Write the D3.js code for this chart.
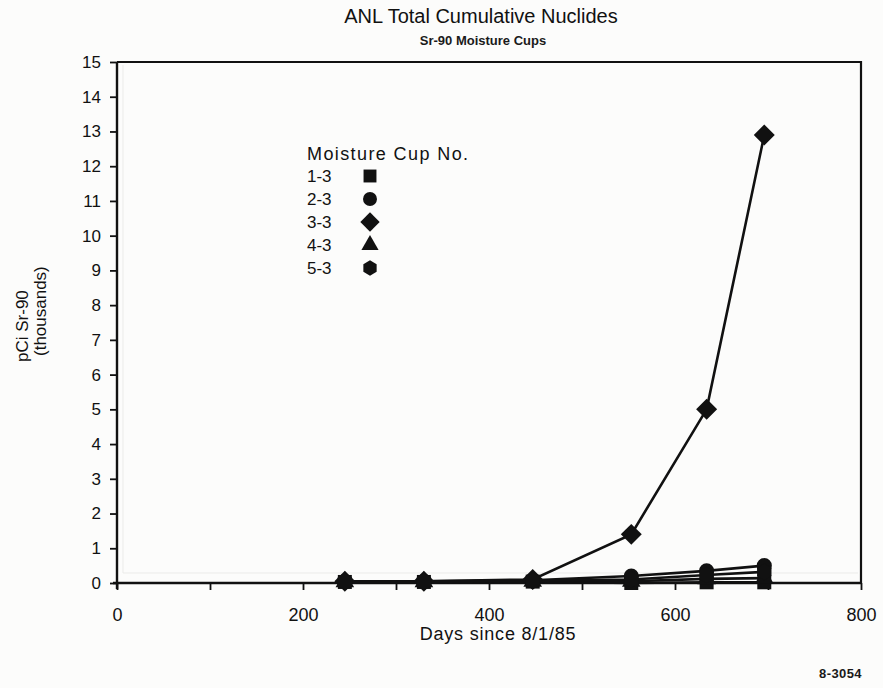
<!DOCTYPE html>
<html>
<head>
<meta charset="utf-8">
<script src="https://d3js.org/d3.v7.min.js"></script>
<style>
  body { margin: 0; background: #fcfcfb; }
  svg { font-family: "Liberation Sans", Arial, sans-serif; }
</style>
</head>
<body>
<svg width="883" height="688"></svg>
<script>
// days since 8/1/85 for each sampling
const days = [245, 330, 447, 553, 634, 696];

// pCi Sr-90 in thousands, one array per moisture cup
const cup13 = [0.03, 0.03, 0.04, 0.0, 0.02, 0.02];
const cup23 = [0.05, 0.05, 0.08, 0.2, 0.35, 0.5];
const cup33 = [0.05, 0.05, 0.1, 1.4, 5.0, 12.9];
const cup43 = [0.03, 0.03, 0.05, 0.05, 0.12, 0.14];
const cup53 = [0.04, 0.04, 0.06, 0.1, 0.23, 0.32];

const cupNames = ["1-3", "2-3", "3-3", "4-3", "5-3"];
const xTicks = [0, 200, 400, 600, 800];
const yTicks = d3.range(0, 16);

// hexagon isn't in d3, so make one
const symbolHexagon = {
  draw(ctx, size) {
    const r = Math.sqrt(size / (1.5 * Math.sqrt(3)));
    for (let i = 0; i < 6; i++) {
      const a = Math.PI / 6 + i * Math.PI / 3;
      const px = r * Math.cos(a), py = r * Math.sin(a);
      if (i === 0) ctx.moveTo(px, py); else ctx.lineTo(px, py);
    }
    ctx.closePath();
  }
};
// square turned 45 degrees (d3's diamond is too tall)
const symbolRhomb = {
  draw(ctx, size) {
    const r = Math.sqrt(size / 2);
    ctx.moveTo(0, -r); ctx.lineTo(r, 0); ctx.lineTo(0, r); ctx.lineTo(-r, 0);
    ctx.closePath();
  }
};

const series = [
  { name: cupNames[0], values: cup13, shape: d3.symbolSquare, size: 196 },
  { name: cupNames[1], values: cup23, shape: d3.symbolCircle, size: 180 },
  { name: cupNames[2], values: cup33, shape: symbolRhomb, size: 220 },
  { name: cupNames[3], values: cup43, shape: d3.symbolTriangle, size: 150 },
  { name: cupNames[4], values: cup53, shape: symbolHexagon, size: 180 }
];

const svg = d3.select("svg");
const margin = { left: 117, right: 22, top: 62, bottom: 105 };
const W = 883, H = 688;

const x = d3.scaleLinear().domain([0, 800]).range([margin.left, W - margin.right]);
const y = d3.scaleLinear().domain([0, 15]).range([H - margin.bottom, margin.top]);

// faint inner line seen on the original
svg.append("path")
  .attr("d", `M${x(0) + 6},${y(15) + 3}V${y(0) - 10}H${x(800) - 3}`)
  .attr("fill", "none").attr("stroke", "#ebebe9").attr("stroke-width", 1);

// frame: top and right
svg.append("path")
  .attr("d", `M${x(0)},${y(15)}H${x(800)}V${y(0)}`)
  .attr("fill", "none").attr("stroke", "#111").attr("stroke-width", 2.2);

const xAxis = svg.append("g")
  .attr("transform", `translate(0,${y(0)})`)
  .call(d3.axisBottom(x).tickValues(d3.range(0, 801, 100)).tickSize(7).tickFormat(d => xTicks.includes(d) ? d : ""));
xAxis.select(".domain").attr("stroke", "#111").attr("stroke-width", 2.4).attr("d", `M${x(0) - 4},0H${x(800)}`);
xAxis.selectAll(".tick line").attr("stroke", "#111").attr("stroke-width", 1.8);
xAxis.selectAll(".tick text").attr("font-size", 18).attr("fill", "#111").attr("dy", "1.55em");

const yAxis = svg.append("g")
  .attr("transform", `translate(${x(0)},0)`)
  .call(d3.axisLeft(y).tickValues(yTicks).tickSize(7).tickPadding(9));
yAxis.select(".domain").attr("stroke", "#111").attr("stroke-width", 2.4).attr("d", `M0,${y(15)}V${y(0) + 6}`);
yAxis.selectAll(".tick line").attr("stroke", "#111").attr("stroke-width", 1.8);
yAxis.selectAll(".tick text").attr("font-size", 17).attr("fill", "#111");

const line = d3.line().x((d, i) => x(days[i])).y(d => y(d));

series.forEach(s => {
  svg.append("path")
    .datum(s.values)
    .attr("d", line)
    .attr("fill", "none").attr("stroke", "#111").attr("stroke-width", 2.6);
});

series.forEach(s => {
  svg.append("g").selectAll("path")
    .data(s.values)
    .join("path")
    .attr("transform", (d, i) => `translate(${x(days[i])},${y(d)})`)
    .attr("d", d3.symbol(s.shape, s.size))
    .attr("fill", "#111");
});

// titles
svg.append("text").attr("x", 481).attr("y", 23).attr("text-anchor", "middle")
  .attr("font-size", 20).attr("fill", "#111").text("ANL Total Cumulative Nuclides");
svg.append("text").attr("x", 483).attr("y", 45).attr("text-anchor", "middle")
  .attr("font-size", 13).attr("font-weight", "bold").attr("fill", "#1a1a1a").text("Sr-90 Moisture Cups");

svg.append("text").attr("x", 498).attr("y", 640).attr("text-anchor", "middle")
  .attr("font-size", 18).attr("letter-spacing", 0.8).attr("fill", "#111")
  .text("Days since 8/1/85");

const yt = svg.append("text").attr("transform", "rotate(-90)")
  .attr("font-size", 17).attr("fill", "#111");
yt.append("tspan").attr("x", -362).attr("y", 28).text("pCi Sr-90");
yt.append("tspan").attr("x", -356).attr("y", 46).text("(thousands)");

svg.append("text").attr("x", 862).attr("y", 678).attr("text-anchor", "end")
  .attr("font-size", 13).attr("letter-spacing", 0.4).attr("font-weight", "bold").attr("fill", "#1a1a1a").text("8-3054");

// legend
const lg = svg.append("g").attr("transform", "translate(307,0)");
lg.append("text").attr("x", 0).attr("y", 160).attr("font-size", 18).attr("letter-spacing", 1.4)
  .attr("fill", "#111").text("Moisture Cup No.");
series.forEach((s, i) => {
  const yy = 176 + i * 23;
  lg.append("text").attr("x", 0).attr("y", yy + 6).attr("font-size", 17).attr("fill", "#111").text(s.name);
  lg.append("path").attr("transform", `translate(63,${yy})`)
    .attr("d", d3.symbol(s.shape, s.size * 0.85)).attr("fill", "#111");
});
</script>
</body>
</html>
